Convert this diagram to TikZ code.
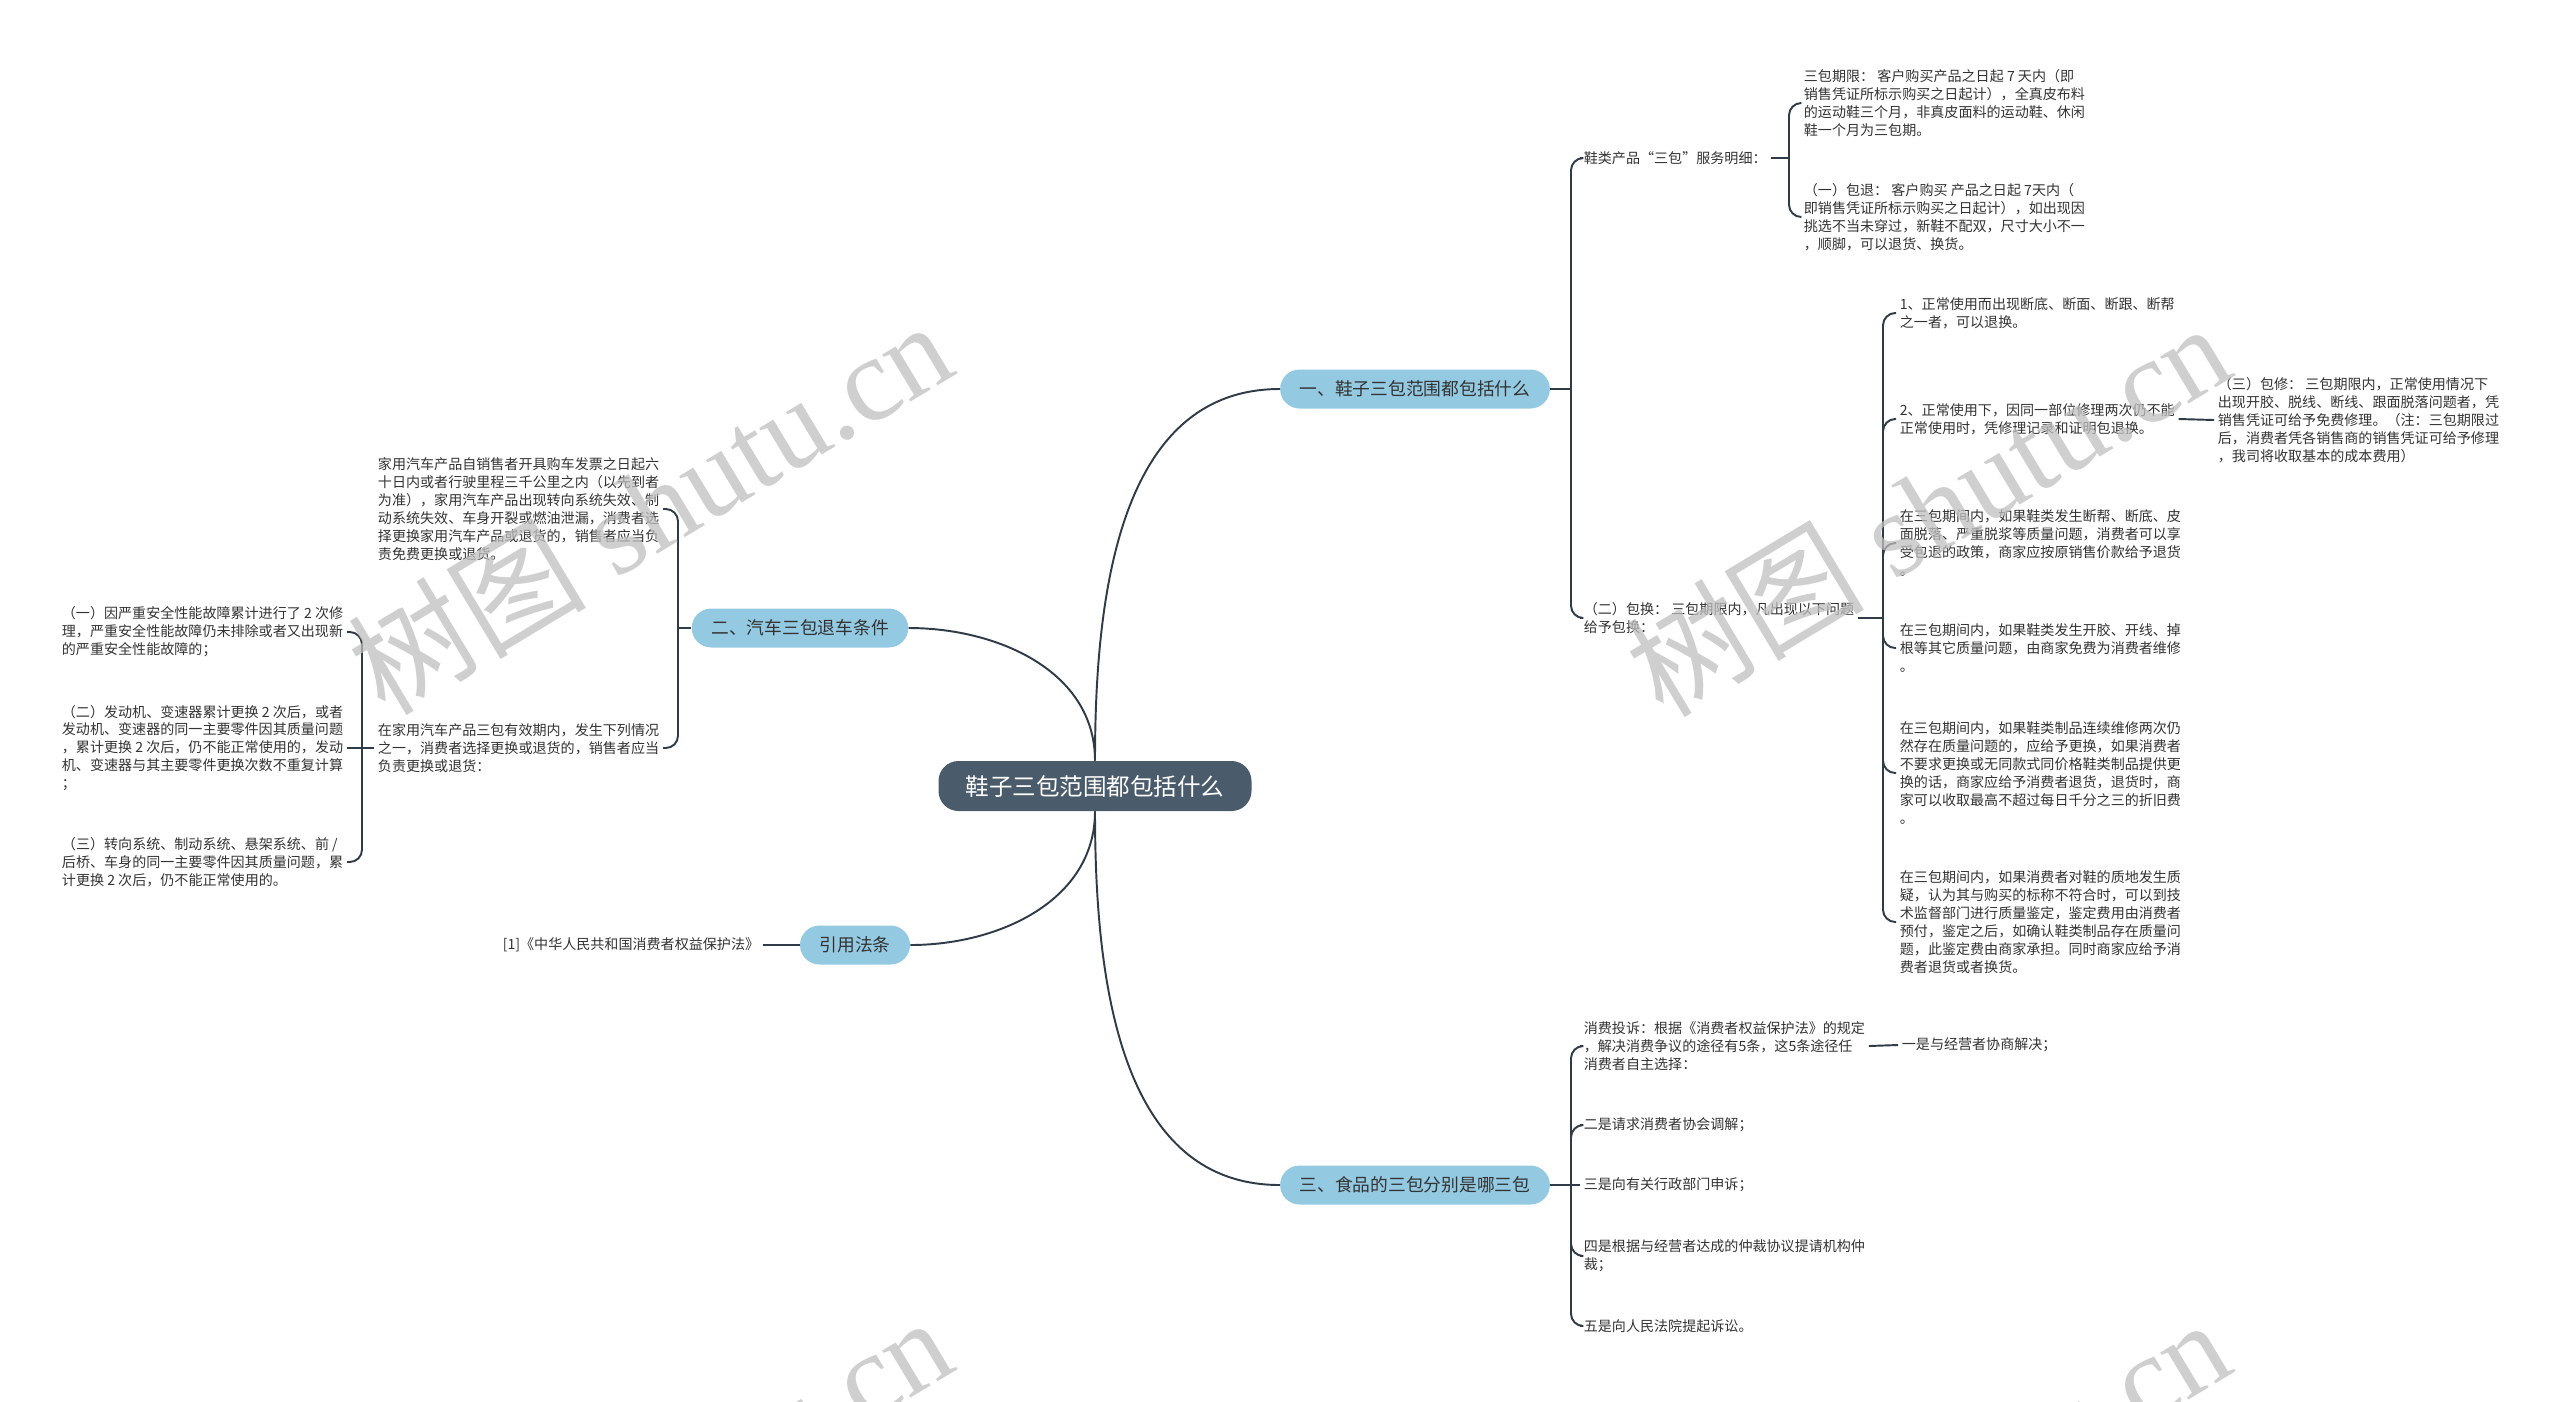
\documentclass[tikz,border=0pt]{standalone}
\usepackage{fontspec}
\setmainfont{Noto Sans CJK SC}
\newfontfamily\wmfont{Liberation Serif}
\definecolor{rootc}{HTML}{4A5B6B}
\definecolor{branchc}{HTML}{94C9E2}
\definecolor{linec}{HTML}{2F3B46}
\definecolor{txtc}{HTML}{333333}

\begin{document}
\begin{tikzpicture}[
      x=0.2mm, y=-0.2mm,
      conn/.style={draw=linec, line width=1.1pt},
      bconn/.style={conn, rounded corners=7pt},
      root/.style={fill=rootc, text=white, rounded corners=4mm, minimum width=62.6mm,
                   minimum height=10mm, font=\fontsize{13.4}{16}\selectfont},
      branch/.style={fill=branchc, text=txtc, rounded corners=3.9mm, inner xsep=3.9mm,
                     minimum height=7.8mm, font=\fontsize{10.1}{12}\selectfont},
      txt/.style={text=txtc, align=left, inner sep=2pt, font=\fontsize{8}{10.2}\selectfont},
      wmark/.style={rotate=31, text=black!25, text opacity=0.75, font=\fontsize{68}{68}\selectfont}
    ]
    \path[use as bounding box, fill=white] (0,0) rectangle (2560,1401);

    \node[root]   (root) at (1095,786)  {鞋子三包范围都包括什么};
    \node[branch] (b1)   at (1415,389)  {一、鞋子三包范围都包括什么};
    \node[branch] (b2)   at (800,628)   {二、汽车三包退车条件};
    \node[branch] (b4)   at (855,945)   {引用法条};
    \node[branch] (b3)   at (1415,1185) {三、食品的三包分别是哪三包};

    \draw[conn] (root.north) to[out=90,in=180] (b1.west);
    \draw[conn] (root.north) to[out=90,in=0] (b2.east);
    \draw[conn] (root.south) to[out=-90,in=0] (b4.east);
    \draw[conn] (root.south) to[out=-90,in=180] (b3.west);

    % shoes
    \node[txt, anchor=west] (c1a) at (1580,158) {鞋类产品“三包”服务明细：};
    \node[txt, anchor=west] (c1b) at (1580,618) {（二）包换： 三包期限内，凡出现以下问题\\给予包换：};
    \node[txt, anchor=west] (s1) at (1800,103) {三包期限： 客户购买产品之日起 7 天内（即\\销售凭证所标示购买之日起计），全真皮布料\\的运动鞋三个月，非真皮面料的运动鞋、休闲\\鞋一个月为三包期。};
    \node[txt, anchor=west] (s2) at (1800,217) {（一）包退： 客户购买 产品之日起 7天内（\\即销售凭证所标示购买之日起计），如出现因\\挑选不当未穿过，新鞋不配双，尺寸大小不一\\，顺脚，可以退货、换货。};
    \node[txt, anchor=west] (d1) at (1896,313) {1、正常使用而出现断底、断面、断跟、断帮\\之一者，可以退换。};
    \node[txt, anchor=west] (d2) at (1896,419) {2、正常使用下，因同一部位修理两次仍不能\\正常使用时，凭修理记录和证明包退换。};
    \node[txt, anchor=west] (d3) at (1896,543) {在三包期间内，如果鞋类发生断帮、断底、皮\\面脱落、严重脱浆等质量问题，消费者可以享\\受包退的政策，商家应按原销售价款给予退货\\。};
    \node[txt, anchor=west] (d4) at (1896,648) {在三包期间内，如果鞋类发生开胶、开线、掉\\根等其它质量问题，由商家免费为消费者维修\\。};
    \node[txt, anchor=west] (d5) at (1896,773) {在三包期间内，如果鞋类制品连续维修两次仍\\然存在质量问题的，应给予更换，如果消费者\\不要求更换或无同款式同价格鞋类制品提供更\\换的话，商家应给予消费者退货，退货时，商\\家可以收取最高不超过每日千分之三的折旧费\\。};
    \node[txt, anchor=west] (d6) at (1896,922) {在三包期间内，如果消费者对鞋的质地发生质\\疑，认为其与购买的标称不符合时，可以到技\\术监督部门进行质量鉴定，鉴定费用由消费者\\预付，鉴定之后，如确认鞋类制品存在质量问\\题，此鉴定费由商家承担。同时商家应给予消\\费者退货或者换货。};
    \node[txt, anchor=west] (e1) at (2214,420) {（三）包修： 三包期限内，正常使用情况下\\出现开胶、脱线、断线、跟面脱落问题者，凭\\销售凭证可给予免费修理。（注：三包期限过\\后，消费者凭各销售商的销售凭证可给予修理\\，我司将收取基本的成本费用）};

    \coordinate (j1) at (1571,389);
    \coordinate (j2) at (1789,158);
    \coordinate (j3) at (1883,618);
    \draw[conn] (b1.east) -- (j1);
    \foreach \c in {c1a,c1b} \draw[bconn] (j1) |- (\c.west);
    \draw[conn] (c1a.east) -- (j2);
    \foreach \c in {s1,s2} \draw[bconn] (j2) |- (\c.west);
    \draw[conn] (c1b.east) -- (j3);
    \foreach \c in {d1,d2,d3,d4,d5,d6} \draw[bconn] (j3) |- (\c.west);
    \draw[conn] (d2.east) -- (e1.west);

    % food
    \node[txt, anchor=west] (f1) at (1580,1046) {消费投诉：根据《消费者权益保护法》的规定\\，解决消费争议的途径有5条，这5条途径任\\消费者自主选择：};
    \node[txt, anchor=west] (f2) at (1580,1125) {二是请求消费者协会调解；};
    \node[txt, anchor=west] (f3) at (1580,1185) {三是向有关行政部门申诉；};
    \node[txt, anchor=west] (f4) at (1580,1256) {四是根据与经营者达成的仲裁协议提请机构仲\\裁；};
    \node[txt, anchor=west] (f5) at (1580,1326) {五是向人民法院提起诉讼。};
    \node[txt, anchor=west] (g1) at (1898,1045) {一是与经营者协商解决；};

    \coordinate (j4) at (1571,1185);
    \draw[conn] (b3.east) -- (f3.west);
    \foreach \c in {f1,f2,f4,f5} \draw[bconn] (j4) |- (\c.west);
    \draw[conn] (f1.east) -- (g1.west);

    % cars
    \node[txt, anchor=east] (h1) at (663,509) {家用汽车产品自销售者开具购车发票之日起六\\十日内或者行驶里程三千公里之内（以先到者\\为准），家用汽车产品出现转向系统失效、制\\动系统失效、车身开裂或燃油泄漏，消费者选\\择更换家用汽车产品或退货的，销售者应当负\\责免费更换或退货。};
    \node[txt, anchor=east] (h2) at (663,748) {在家用汽车产品三包有效期内，发生下列情况\\之一，消费者选择更换或退货的，销售者应当\\负责更换或退货：};
    \node[txt, anchor=east] (k1) at (347,632) {（一）因严重安全性能故障累计进行了 2 次修\\理，严重安全性能故障仍未排除或者又出现新\\的严重安全性能故障的；};
    \node[txt, anchor=east] (k2) at (347,748) {（二）发动机、变速器累计更换 2 次后，或者\\发动机、变速器的同一主要零件因其质量问题\\，累计更换 2 次后，仍不能正常使用的，发动\\机、变速器与其主要零件更换次数不重复计算\\；};
    \node[txt, anchor=east] (k3) at (347,862) {（三）转向系统、制动系统、悬架系统、前 /\\后桥、车身的同一主要零件因其质量问题，累\\计更换 2 次后，仍不能正常使用的。};

    \coordinate (j5) at (678,628);
    \coordinate (j6) at (362,748);
    \draw[conn] (b2.west) -- (j5);
    \foreach \c in {h1,h2} \draw[bconn] (j5) |- (\c.east);
    \draw[conn] (h2.west) -- (k2.east);
    \foreach \c in {k1,k3} \draw[bconn] (j6) |- (\c.east);

    % law
    \node[txt, anchor=east] (r1) at (763,945) {[1]《中华人民共和国消费者权益保护法》};
    \draw[conn] (r1.east) -- (b4.west);

    \begin{scope}
      \clip (0,0) rectangle (2560,1401);
      \foreach \p in {(649,506),(1927,508),(649,1502),(1927,1504)}
        \node[wmark] at \p {树图{\wmfont\ shutu.cn}};
    \end{scope}
  \end{tikzpicture}
\end{document}
